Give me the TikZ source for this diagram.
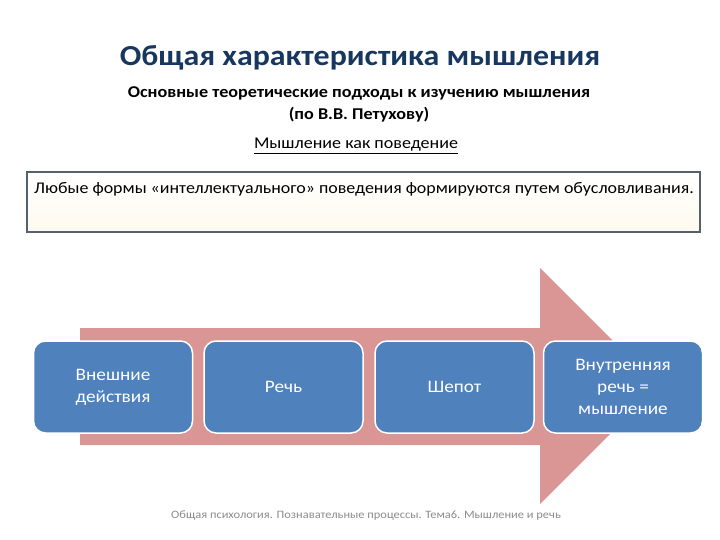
\documentclass[tikz,border=0pt]{standalone}
\usepackage{fontspec}
\setmainfont[FakeStretch=1.1]{Carlito}
\usetikzlibrary{shapes.geometric}
\definecolor{navy}{HTML}{17375E}
\definecolor{boxblue}{HTML}{4F81BD}
\definecolor{arrowpink}{HTML}{D99694}
\definecolor{frame}{HTML}{55606C}
\definecolor{foot}{HTML}{8C8C8C}
\definecolor{cream}{HTML}{FFFAEE}
\tikzset{
  stagebox/.style={draw=white, line width=1.5pt, fill=boxblue, rounded corners=12pt,
    minimum width=159pt, minimum height=92pt, text=white, align=center,
    font=\fontsize{17.5}{22}\selectfont, inner sep=2pt},
}
\begin{document}
\begin{tikzpicture}[x=1pt,y=-1pt]
\useasboundingbox (0,0) rectangle (720,540);
\fill[white] (0,0) rectangle (720,540);
% title block
\node[text=navy, font=\fontsize{29}{34}\selectfont\bfseries] (title) at (360,58) {Общая характеристика мышления};
\node[font=\fontsize{16.5}{22}\selectfont\bfseries, align=center] (sub) at (359,104) {Основные теоретические подходы к изучению мышления\\(по В.В. Петухову)};
\node[font=\fontsize{16.4}{18}\selectfont] (under) at (356,146) {\underline{Мышление как поведение}};
% definition box
\shade[top color=white, bottom color=cream] (27,172) rectangle (700,232);
\draw[frame, line width=1.6pt] (27,172) rectangle (700,232);
\node[anchor=west, font=\fontsize{16.3}{18}\selectfont, inner sep=0pt] (def) at (34,189) {Любые формы «интеллектуального» поведения формируются путем обусловливания.};
% arrow
\fill[arrowpink] (80,328) -- (540,328) -- (540,268) -- (658,386) -- (540,504) -- (540,445) -- (80,445) -- cycle;
% stages
\node[stagebox] (s1) at (113,387) {Внешние\\действия};
\node[stagebox] (s2) at (283.5,387) {Речь};
\node[stagebox] (s3) at (454.5,387) {Шепот};
\node[stagebox] (s4) at (623,387) {Внутренняя\\речь =\\мышление};
% footer
\node[text=foot, font=\fontsize{11.3}{12}\selectfont] (footer) at (366,516) {Общая психология. Познавательные процессы. Тема6. Мышление и речь};
\end{tikzpicture}
\end{document}
